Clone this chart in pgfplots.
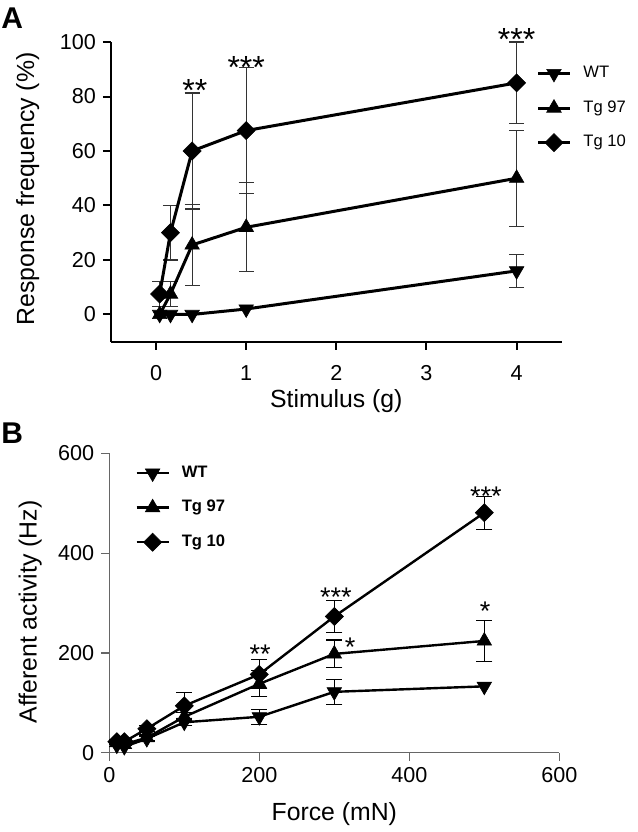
\documentclass[border=0pt]{standalone}
\usepackage{pgfplots}
\pgfplotsset{compat=1.18}
\usepackage{fontspec}
\setmainfont{Liberation Sans}
\begin{document}
\begin{tikzpicture}
\path[use as bounding box] (0,0) rectangle (319pt,-416pt);
\pgfplotsset{
  common/.style={
    scale only axis,
    axis x line*=bottom, axis y line*=left,
    tick align=outside,
    major tick length=4pt,
    /pgf/number format/assume math mode=true,
    ticklabel style={font=\fontsize{10.8}{12}\selectfont},
    label style={font=\fontsize{12.4}{14}\selectfont},
    clip=false,
    legend cell align=left,
    legend image code/.code={\draw[mark repeat=2,mark phase=2] plot coordinates {(0cm,0cm) (0.28cm,0cm) (0.56cm,0cm)}; \path (0.56cm+4pt,0pt);},
  },
  ebA/.style={error bars/.cd, y dir=both, y explicit, error bar style={draw=black!80, solid, line width=0.6pt}, error mark options={rotate=90, mark size=3.75pt, line width=0.6pt, draw=black!80}},
  ebB/.style={error bars/.cd, y dir=both, y explicit, error bar style={draw=black, solid, line width=0.6pt}, error mark options={rotate=90, mark size=4pt, line width=0.6pt, draw=black}},
  mwt/.style={mark=triangle*, mark size=4.2pt, mark options={rotate=180, solid, line width=0.3pt}},
  mtg/.style={mark=triangle*, mark size=4.2pt, mark options={solid, line width=0.3pt}},
  mdi/.style={mark=square*, mark size=3.2pt, mark options={rotate=45, solid, line width=0.3pt}},
}
% ---------------- Panel A ----------------
\node[anchor=north west, inner sep=0pt, font=\bfseries\fontsize{15}{15}\selectfont] at (0.5pt,-3.5pt) {A};
\begin{axis}[common,
  at={(55.5pt,-170.85pt)}, anchor=south west,
  width=225.35pt, height=149.85pt,
  xmin=-0.5, xmax=4.5, ymin=-10, ymax=100,
  xtick={0,1,2,3,4}, ytick={0,20,40,60,80,100},
  xticklabel style={yshift=-4.5pt},
  axis line style={line width=1pt},
  tick style={line width=1pt, black},
  xlabel={Stimulus (g)}, ylabel={Response frequency (\%)},
  xlabel style={at={(rel axis cs:0.5,-0.221)}, anchor=base},
  ylabel style={at={(rel axis cs:-0.185,0.51)}, anchor=center},
  legend style={at={(rel axis cs:0.93,0.947)}, anchor=north west, draw=none, fill=none, font=\fontsize{8.3}{9}\selectfont, row sep=6pt},
]
% error bars (drawn first)
\addplot[forget plot, draw=none, ebA] coordinates {
 (4,16) +- (0,6)
};
\addplot[forget plot, draw=none, ebA] coordinates {
 (0.16,7.5) +- (0,4.5)
 (0.4,25.5) +- (0,15)
 (1,32) +- (0,16.3)
 (4,50) +- (0,17.6)
};
\addplot[forget plot, draw=none, ebA] coordinates {
 (0.04,7.5) +- (0,4.5)
 (0.16,30) +- (0,10)
 (0.4,60) +- (0,21.3)
 (1,67.5) +- (0,23)
 (4,85) +- (0,15)
};
% lines with markers
\addplot[black, line width=1.5pt, mwt] coordinates {
 (0.04,0) (0.16,0) (0.4,0) (1,2) (4,16)
};
\addlegendentry{WT}
\addplot[black, line width=1.5pt, mtg] coordinates {
 (0.04,0) (0.16,7.5) (0.4,25.5) (1,32) (4,50)
};
\addlegendentry{Tg 97}
\addplot[black, line width=1.5pt, mdi] coordinates {
 (0.04,7.5) (0.16,30) (0.4,60) (1,67.5) (4,85)
};
\addlegendentry{Tg 10}
\node[font=\fontsize{16}{16}\selectfont, inner sep=0pt, yshift=-3.4pt] at (axis cs:0.43,84.8) {**};
\node[font=\fontsize{16}{16}\selectfont, inner sep=0pt, yshift=-3.4pt] at (axis cs:1,93) {***};
\node[font=\fontsize{16}{16}\selectfont, inner sep=0pt, yshift=-3.4pt] at (axis cs:4,103.4) {***};
\end{axis}
% ---------------- Panel B ----------------
\node[anchor=north west, inner sep=0pt, font=\bfseries\fontsize{15}{15}\selectfont] at (0.5pt,-211pt) {B};
\begin{axis}[common,
  at={(54.65pt,-376.35pt)}, anchor=south west,
  width=225pt, height=149.7pt,
  xmin=0, xmax=600, ymin=0, ymax=600,
  xtick={0,200,400,600}, ytick={0,200,400,600},
  axis line style={line width=0.6pt, black!60},
  tick style={line width=0.6pt, black!60},
  xlabel={Force (mN)}, ylabel={Afferent activity (Hz)},
  xlabel style={at={(rel axis cs:0.5,-0.225)}, anchor=base},
  ylabel style={at={(rel axis cs:-0.176,0.47)}, anchor=center},
  legend style={at={(rel axis cs:0.044,0.986)}, anchor=north west, draw=none, fill=none, font=\bfseries\fontsize{8.3}{9}\selectfont, row sep=6pt},
]
% error bars (drawn first)
\addplot[forget plot, draw=none, ebB] coordinates {
 (10,15) +- (0,3)
 (20,12) +- (0,3)
 (50,28) +- (0,5)
 (100,61) +- (0,6)
 (200,72) +- (0,15)
 (300,122) +- (0,25)
};
\addplot[forget plot, draw=none, ebB] coordinates {
 (10,20) +- (0,3)
 (20,17) +- (0,3)
 (50,30) +- (0,5)
 (100,72) +- (0,8)
 (200,138) +- (0,26)
 (300,198) +- (0,28)
 (500,224) +- (0,41)
};
\addplot[forget plot, draw=none, ebB] coordinates {
 (10,22) +- (0,4)
 (20,22) +- (0,4)
 (50,48) +- (0,6)
 (100,94) +- (0,26)
 (200,157) +- (0,29)
 (300,273) +- (0,32)
 (500,481) +- (0,33)
};
% lines with markers
\addplot[black, line width=1.2pt, mwt] coordinates {
 (10,15) (20,12) (50,28) (100,61) (200,72) (300,122) (500,133)
};
\addlegendentry{WT}
\addplot[black, line width=1.2pt, mtg] coordinates {
 (10,20) (20,17) (50,30) (100,72) (200,138) (300,198) (500,224)
};
\addlegendentry{Tg 97}
\addplot[black, line width=1.2pt, mdi] coordinates {
 (10,22) (20,22) (50,48) (100,94) (200,157) (300,273) (500,481)
};
\addlegendentry{Tg 10}
\node[font=\fontsize{13.5}{14}\selectfont, inner sep=0pt, yshift=-2.9pt] at (axis cs:201,209) {**};
\node[font=\fontsize{13.5}{14}\selectfont, inner sep=0pt, yshift=-2.9pt] at (axis cs:302,322.6) {***};
\node[font=\fontsize{13.5}{14}\selectfont, inner sep=0pt, yshift=-2.9pt] at (axis cs:321,224) {*};
\node[font=\fontsize{13.5}{14}\selectfont, inner sep=0pt, yshift=-2.9pt] at (axis cs:502,526) {***};
\node[font=\fontsize{13.5}{14}\selectfont, inner sep=0pt, yshift=-2.9pt] at (axis cs:501,296) {*};
\end{axis}
\end{tikzpicture}
\end{document}
